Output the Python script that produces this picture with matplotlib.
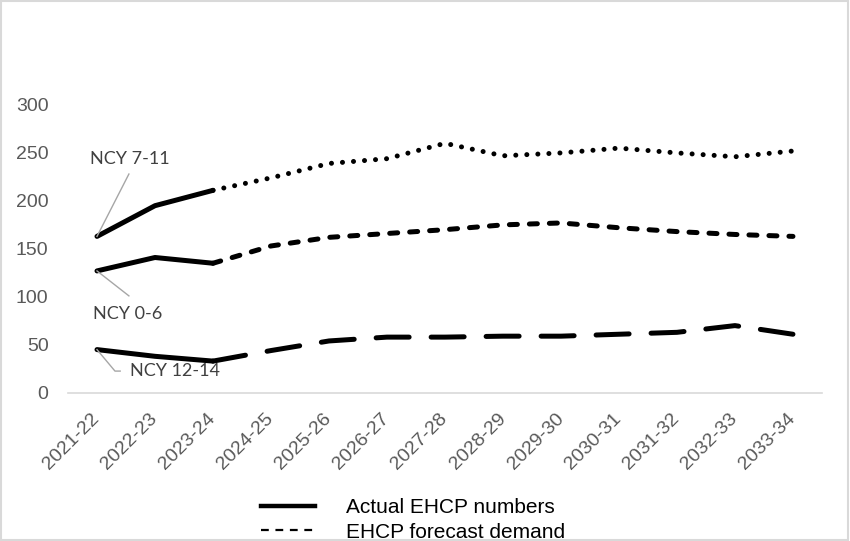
import matplotlib
matplotlib.use('Agg')
import matplotlib.pyplot as plt
from matplotlib.lines import Line2D
from matplotlib.patches import Rectangle

#### DATA ####

years = ['2021-22', '2022-23', '2023-24', '2024-25', '2025-26', '2026-27', '2027-28',
         '2028-29', '2029-30', '2030-31', '2031-32', '2032-33', '2033-34']

# actual EHCP numbers (first three years)
ncy_7_11_actual = [163, 195, 211]
ncy_0_6_actual = [127, 141, 135]
ncy_12_14_actual = [45, 38, 33]

# forecast demand, starting at the last actual year (2023-24)
ncy_7_11_forecast = [211, 224, 239, 244, 260, 247, 250, 255, 250, 246, 252]
ncy_0_6_forecast = [135, 153, 162, 166, 170, 175, 177, 172, 168, 165, 163]
ncy_12_14_forecast = [33, 44, 54, 58, 58, 59, 59, 61, 63, 70, 61]

#### PLOT ####

fig = plt.figure(figsize=(8.5, 5.41), dpi=100)
ax = fig.add_axes([0.080, 0.274, 0.887, 0.532])

x_act = list(range(len(ncy_0_6_actual)))
x_fc = list(range(len(ncy_0_6_actual) - 1, len(years)))

lw = 3.6
common = dict(color='black', lw=lw, solid_capstyle='round', dash_capstyle='round',
              solid_joinstyle='round', dash_joinstyle='round')

ax.plot(x_fc, ncy_7_11_forecast, dashes=(0.01, 2.2), **common)
ax.plot(x_fc, ncy_0_6_forecast, dashes=(1.6, 2.4), **common)
ax.plot(x_fc, ncy_12_14_forecast, dashes=(6.6, 4.4), **common)

ax.plot(x_act, ncy_7_11_actual, '-', **common)
ax.plot(x_act, ncy_0_6_actual, '-', **common)
ax.plot(x_act, ncy_12_14_actual, '-', **common)

ax.set_xlim(-0.5, len(years) - 0.5)
ax.set_ylim(0, 300)
ax.set_yticks([0, 50, 100, 150, 200, 250, 300])
ax.set_xticks(range(len(years)))

tick_font = dict(family='Liberation Sans', size=14, color='#595959')
ax.set_yticklabels([str(v) for v in ax.get_yticks().astype(int)], **tick_font)
ax.set_xticklabels(years, rotation=45, ha='right', va='center',
                   rotation_mode='anchor', **tick_font)
ax.tick_params(axis='both', length=0)
ax.tick_params(axis='y', pad=14)
ax.tick_params(axis='x', pad=17)

for s in ['top', 'right', 'left']:
    ax.spines[s].set_visible(False)
ax.spines['bottom'].set_color('#d9d9d9')
ax.spines['bottom'].set_linewidth(1.2)

# series labels with leader lines
lab_font = dict(family='Lato', size=13, color='#404040')
lead = dict(color='#a6a6a6', lw=1.0, clip_on=False)
ax.plot([0, 0.55], [ncy_7_11_actual[0], 228], **lead)
ax.text(0.57, 244, 'NCY 7-11', ha='center', va='center', **lab_font)
ax.plot([0, 0.55], [ncy_0_6_actual[0], 101], **lead)
ax.text(0.53, 82, 'NCY 0-6', ha='center', va='center', **lab_font)
ax.plot([0, 0.31, 0.40], [ncy_12_14_actual[0], 22.6, 22.6], **lead)
ax.text(0.57, 22.6, 'NCY 12-14', ha='left', va='center', **lab_font)

# legend
handles = [Line2D([], [], color='black', lw=3.2),
           Line2D([], [], color='black', lw=1.6, dashes=(3.5, 3.0))]
fig.legend(handles, ['Actual EHCP numbers', 'EHCP forecast demand'],
           loc='center', bbox_to_anchor=(0.486, 0.039), frameon=False,
           prop=dict(family='Liberation Sans', size=15), handlelength=2.6,
           handletextpad=1.5, labelspacing=0.25, borderpad=0)

fig.patches.append(Rectangle((0.001, 0.001), 0.997, 0.997, transform=fig.transFigure,
                             fill=False, edgecolor='#d9d9d9', lw=1.5))

fig.savefig('out.png', dpi=100)
